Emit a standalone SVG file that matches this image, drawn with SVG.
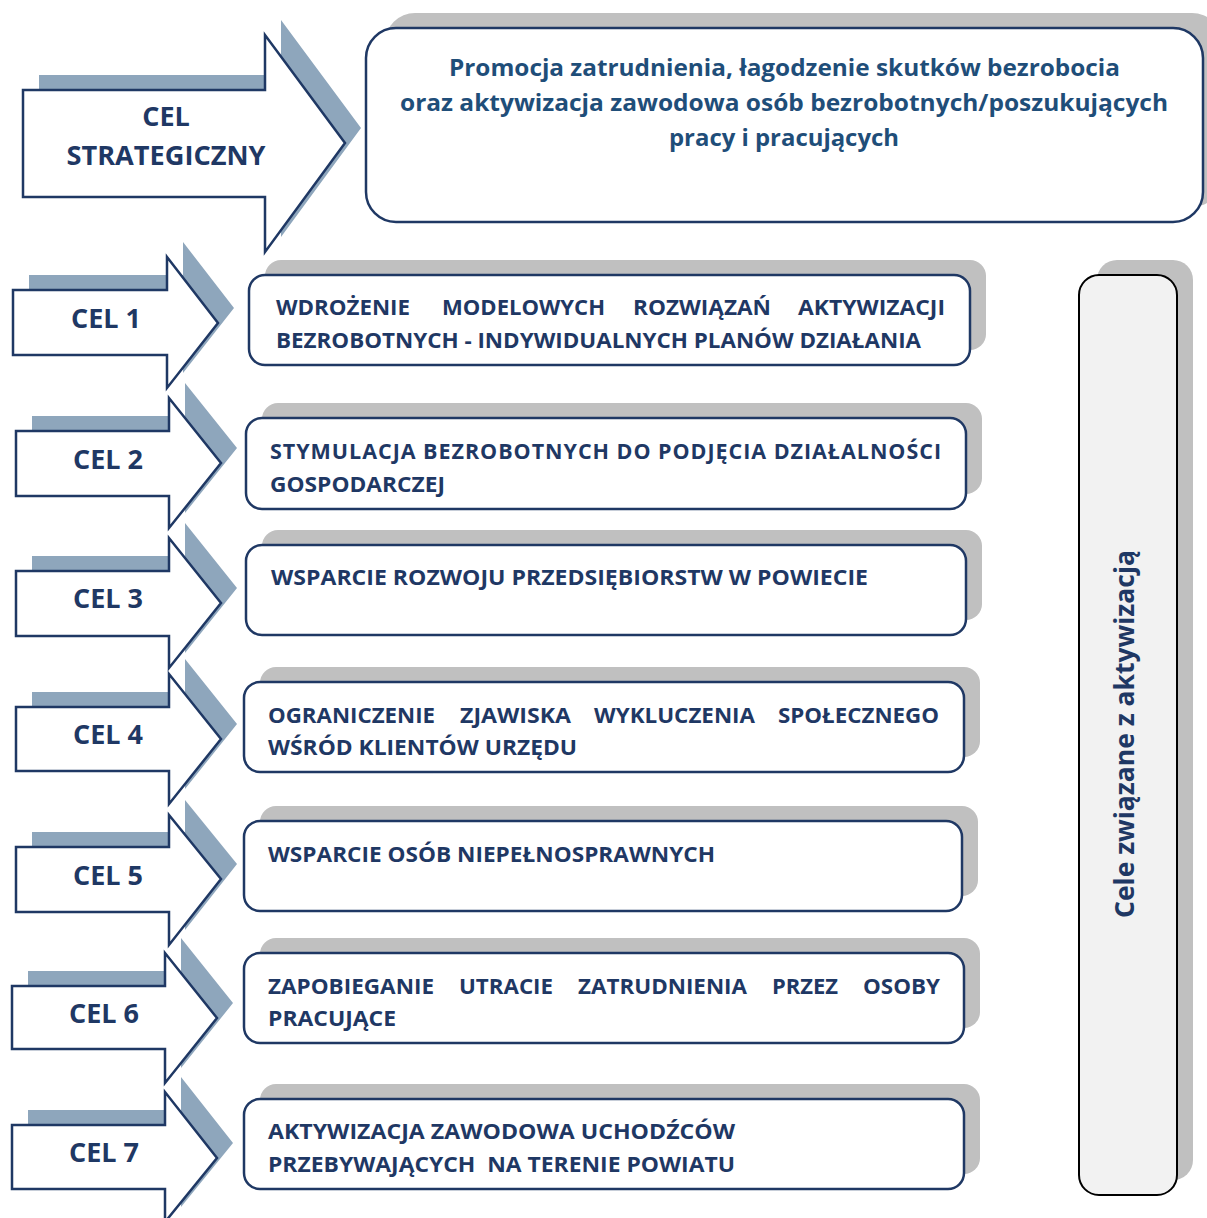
<svg xmlns="http://www.w3.org/2000/svg" width="1207" height="1218" viewBox="0 0 1207 1218">
<style>
.arr{fill:#ffffff;stroke:#1f3864;stroke-width:2.5;stroke-linejoin:miter}
.ash{fill:#8ea6bc}
.box{fill:#ffffff;stroke:#1f3864;stroke-width:2.5}
.bsh{fill:#c0c0c0}
.lbl{font-family:"Open Sans","Liberation Sans",sans-serif;font-weight:bold;font-size:27px;fill:#1f3864;text-anchor:middle}
.t{font-family:"Open Sans","Liberation Sans",sans-serif;font-weight:bold;font-size:21.5px;fill:#1f3864}
.top{font-family:"Open Sans","Liberation Sans",sans-serif;font-weight:bold;font-size:24px;fill:#1f4e79}
.vt{font-family:"Open Sans","Liberation Sans",sans-serif;font-weight:bold;font-size:26px;fill:#1f3864}
</style>
<defs>
<polygon id="bigArr" points="23,90 265,90 265,35 345,143 265,252 265,197 23,197"/>
</defs>
<rect width="1207" height="1218" fill="#ffffff"/>

<g id="strategic-arrow">
<use href="#bigArr" class="ash" transform="translate(16,-15)"/>
<use href="#bigArr" class="arr"/>
<text class="lbl" x="166" y="126">CEL</text>
<text class="lbl" x="166" y="165" textLength="199" lengthAdjust="spacingAndGlyphs">STRATEGICZNY</text>
</g>

<g id="strategic-box">
<rect class="bsh" x="385" y="13" width="837" height="194" rx="30"/>
<rect class="box" x="366" y="28" width="837" height="194" rx="30"/>
<text class="top" x="449" y="76" textLength="671" lengthAdjust="spacingAndGlyphs">Promocja zatrudnienia, łagodzenie skutków bezrobocia</text>
<text class="top" x="400" y="111" textLength="768" lengthAdjust="spacingAndGlyphs">oraz aktywizacja zawodowa osób bezrobotnych/poszukujących</text>
<text class="top" x="669" y="146" textLength="230" lengthAdjust="spacingAndGlyphs">pracy i pracujących</text>
</g>

<g id="side-box">
<rect class="bsh" x="1097" y="260" width="96" height="920" rx="20"/>
<rect x="1079" y="275" width="98" height="920" rx="20" fill="#f2f2f2" stroke="#000000" stroke-width="2"/>
<text class="vt" transform="translate(1134,918) rotate(-90)" textLength="368" lengthAdjust="spacingAndGlyphs">Cele związane z aktywizacją</text>
</g>

<g id="cel1">
<polygon class="ash" points="29,275 183,275 183,242 234,308 183,373 183,340 29,340"/>
<polygon class="arr" points="13,290 167,290 167,257 218,323 167,388 167,355 13,355"/>
<text class="lbl" x="106" y="328">CEL 1</text>
</g>
<g id="goal1">
<rect class="bsh" x="265" y="260" width="721" height="90" rx="16"/>
<rect class="box" x="249" y="275" width="721" height="90" rx="16"/>
<text class="t" x="276" y="315" textLength="134" lengthAdjust="spacingAndGlyphs">WDROŻENIE</text>
<text class="t" x="442" y="315" textLength="163" lengthAdjust="spacingAndGlyphs">MODELOWYCH</text>
<text class="t" x="633" y="315" textLength="138" lengthAdjust="spacingAndGlyphs">ROZWIĄZAŃ</text>
<text class="t" x="798" y="315" textLength="147" lengthAdjust="spacingAndGlyphs">AKTYWIZACJI</text>
<text class="t" x="276" y="348" textLength="645" lengthAdjust="spacingAndGlyphs">BEZROBOTNYCH - INDYWIDUALNYCH PLANÓW DZIAŁANIA</text>
</g>

<g id="cel2">
<polygon class="ash" points="32,416 185,416 185,383 237,448 185,513 185,481 32,481"/>
<polygon class="arr" points="16,431 169,431 169,398 221,463 169,528 169,496 16,496"/>
<text class="lbl" x="108" y="469">CEL 2</text>
</g>
<g id="goal2">
<rect class="bsh" x="262" y="403" width="720" height="91" rx="16"/>
<rect class="box" x="246" y="418" width="720" height="91" rx="16"/>
<text class="t" x="270" y="459" textLength="671" lengthAdjust="spacing">STYMULACJA BEZROBOTNYCH DO PODJĘCIA DZIAŁALNOŚCI</text>
<text class="t" x="270" y="492" textLength="175" lengthAdjust="spacingAndGlyphs">GOSPODARCZEJ</text>
</g>

<g id="cel3">
<polygon class="ash" points="32,556 185,556 185,523 237,588 185,653 185,621 32,621"/>
<polygon class="arr" points="16,571 169,571 169,538 221,603 169,668 169,636 16,636"/>
<text class="lbl" x="108" y="608">CEL 3</text>
</g>
<g id="goal3">
<rect class="bsh" x="262" y="530" width="720" height="90" rx="16"/>
<rect class="box" x="246" y="545" width="720" height="90" rx="16"/>
<text class="t" x="271" y="585" textLength="597" lengthAdjust="spacingAndGlyphs">WSPARCIE ROZWOJU PRZEDSIĘBIORSTW W POWIECIE</text>
</g>

<g id="cel4">
<polygon class="ash" points="32,692 185,692 185,659 237,724 185,789 185,756 32,756"/>
<polygon class="arr" points="16,707 169,707 169,674 221,739 169,804 169,771 16,771"/>
<text class="lbl" x="108" y="744">CEL 4</text>
</g>
<g id="goal4">
<rect class="bsh" x="260" y="667" width="720" height="90" rx="16"/>
<rect class="box" x="244" y="682" width="720" height="90" rx="16"/>
<text class="t" x="268" y="723" textLength="167" lengthAdjust="spacingAndGlyphs">OGRANICZENIE</text>
<text class="t" x="460" y="723" textLength="111" lengthAdjust="spacingAndGlyphs">ZJAWISKA</text>
<text class="t" x="594" y="723" textLength="161" lengthAdjust="spacingAndGlyphs">WYKLUCZENIA</text>
<text class="t" x="778" y="723" textLength="161" lengthAdjust="spacingAndGlyphs">SPOŁECZNEGO</text>
<text class="t" x="268" y="755" textLength="309" lengthAdjust="spacingAndGlyphs">WŚRÓD KLIENTÓW URZĘDU</text>
</g>

<g id="cel5">
<polygon class="ash" points="32,832 185,832 185,800 237,864 185,930 185,897 32,897"/>
<polygon class="arr" points="16,847 169,847 169,815 221,879 169,945 169,912 16,912"/>
<text class="lbl" x="108" y="885">CEL 5</text>
</g>
<g id="goal5">
<rect class="bsh" x="260" y="806" width="718" height="90" rx="16"/>
<rect class="box" x="244" y="821" width="718" height="90" rx="16"/>
<text class="t" x="268" y="862" textLength="447" lengthAdjust="spacingAndGlyphs">WSPARCIE OSÓB NIEPEŁNOSPRAWNYCH</text>
</g>

<g id="cel6">
<polygon class="ash" points="28,971 181,971 181,938 233,1003 181,1068 181,1034 28,1034"/>
<polygon class="arr" points="12,986 165,986 165,953 217,1018 165,1083 165,1049 12,1049"/>
<text class="lbl" x="104" y="1023">CEL 6</text>
</g>
<g id="goal6">
<rect class="bsh" x="260" y="938" width="720" height="90" rx="16"/>
<rect class="box" x="244" y="953" width="720" height="90" rx="16"/>
<text class="t" x="268" y="994" textLength="166" lengthAdjust="spacingAndGlyphs">ZAPOBIEGANIE</text>
<text class="t" x="459" y="994" textLength="94" lengthAdjust="spacingAndGlyphs">UTRACIE</text>
<text class="t" x="578" y="994" textLength="169" lengthAdjust="spacingAndGlyphs">ZATRUDNIENIA</text>
<text class="t" x="772" y="994" textLength="66" lengthAdjust="spacingAndGlyphs">PRZEZ</text>
<text class="t" x="863" y="994" textLength="77" lengthAdjust="spacingAndGlyphs">OSOBY</text>
<text class="t" x="268" y="1026" textLength="128" lengthAdjust="spacingAndGlyphs">PRACUJĄCE</text>
</g>

<g id="cel7">
<polygon class="ash" points="28,1110 181,1110 181,1077 233,1143 181,1207 181,1174 28,1174"/>
<polygon class="arr" points="12,1125 165,1125 165,1092 217,1158 165,1222 165,1189 12,1189"/>
<text class="lbl" x="104" y="1162">CEL 7</text>
</g>
<g id="goal7">
<rect class="bsh" x="260" y="1084" width="720" height="90" rx="16"/>
<rect class="box" x="244" y="1099" width="720" height="90" rx="16"/>
<text class="t" x="268" y="1139" textLength="467" lengthAdjust="spacingAndGlyphs">AKTYWIZACJA ZAWODOWA UCHODŹCÓW</text>
<text class="t" x="268" y="1172" textLength="467" lengthAdjust="spacingAndGlyphs">PRZEBYWAJĄCYCH&#160; NA TERENIE POWIATU</text>
</g>

<g id="connectors"></g>
</svg>
